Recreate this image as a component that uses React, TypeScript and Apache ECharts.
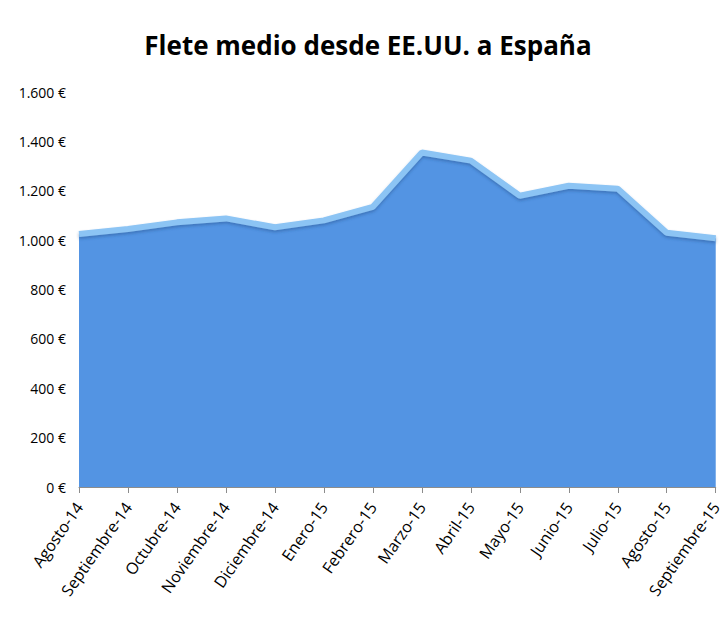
import React, { useEffect, useRef } from "react";
import * as echarts from "echarts";

const categories = [
  "Agosto-14", "Septiembre-14", "Octubre-14", "Noviembre-14", "Diciembre-14",
  "Enero-15", "Febrero-15", "Marzo-15", "Abril-15", "Mayo-15",
  "Junio-15", "Julio-15", "Agosto-15", "Septiembre-15",
];
const flete = [1025, 1045, 1072, 1088, 1052, 1080, 1135, 1355, 1322, 1180, 1220, 1208, 1030, 1008];
const yTicks = { min: 0, max: 1600, interval: 200 };
const title = "Flete medio desde EE.UU. a España";

function fmt(v: number) {
  return String(v).replace(/\B(?=(\d{3})+(?!\d))/g, ".") + " €";
}

export default function App() {
  const ref = useRef<HTMLDivElement>(null);
  useEffect(() => {
    if (!ref.current) return;
    const chart = echarts.init(ref.current, null, { renderer: "svg" });
    chart.setOption({
      animation: false,
      backgroundColor: "#ffffff",
      title: {
        text: title,
        left: 363,
        textAlign: "center",
        top: 27,
        textStyle: {
          fontFamily: "Open Sans",
          fontWeight: "bold",
          fontSize: 26,
          color: "#000000",
        },
      },
      grid: { left: 79, right: 3, top: 92, bottom: 131 },
      xAxis: {
        type: "category",
        data: categories,
        boundaryGap: false,
        axisLine: { show: true, lineStyle: { color: "#8c8c8c", width: 1 } },
        axisTick: { show: true, alignWithLabel: true, length: 6, lineStyle: { color: "#8c8c8c" } },
        axisLabel: {
          rotate: 55,
          interval: 0,
          fontFamily: "Open Sans",
          fontSize: 16,
          color: "#000000",
          margin: 17,
        },
      },
      yAxis: {
        type: "value",
        min: yTicks.min,
        max: yTicks.max,
        interval: yTicks.interval,
        axisLine: { show: false },
        axisTick: { show: false },
        splitLine: { show: false },
        axisLabel: {
          formatter: (v: number) => fmt(v),
          fontFamily: "Open Sans",
          fontSize: 14,
          color: "#000000",
          margin: 13,
        },
      },
      series: [
        {
          type: "line",
          data: flete,
          symbol: "none",
          lineStyle: {
            color: "#8cc4f4",
            width: 6,
            shadowColor: "rgba(40,80,140,0.45)",
            shadowBlur: 3,
            shadowOffsetY: 2,
          },
          areaStyle: { color: "#5394e3", opacity: 1 },
        },
      ],
    });
    return () => chart.dispose();
  }, []);
  return (
    <div
      ref={ref}
      style={{ position: "fixed", left: 0, top: 0, width: 724, height: 618 }}
    />
  );
}
